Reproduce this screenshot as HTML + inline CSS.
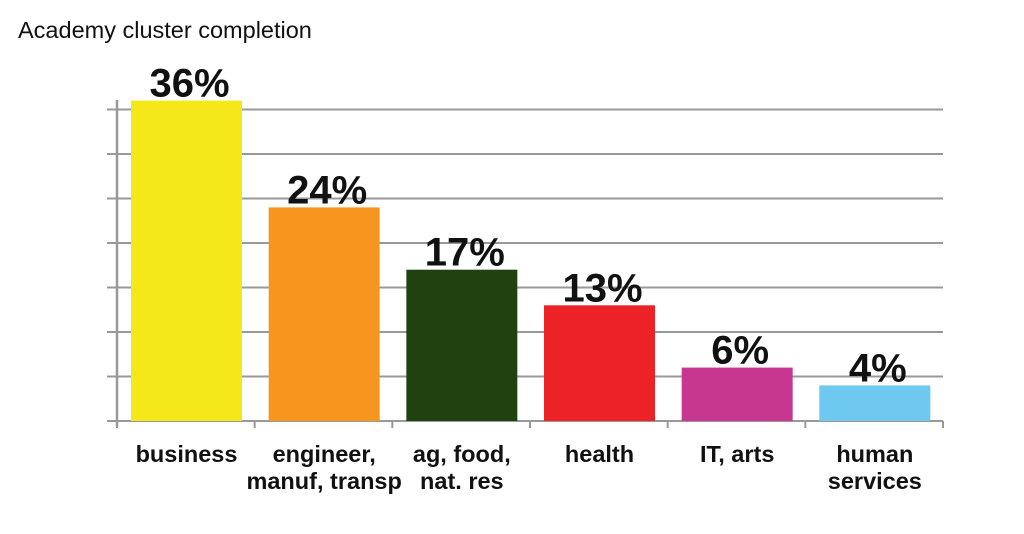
<!DOCTYPE html>
<html><head><meta charset="utf-8"><style>
body{margin:0;background:#fff;}
svg{display:block;font-family:"Liberation Sans",Arial,sans-serif;}
</style></head><body>
<svg width="1024" height="534">
<text x="18" y="38" font-size="23.5" fill="#111">Academy cluster completion</text>
<g id="grid"></g><g id="bars"></g><g id="labels"></g>
</svg>
<script>
const categories=[["business"],["engineer,","manuf, transp"],["ag, food,","nat. res"],["health"],["IT, arts"],["human","services"]];
const values=[36,24,17,13,6,4];
const valueLabels=["36%","24%","17%","13%","6%","4%"];
const colors=["#f5e81a","#f7961f","#1f4210","#ec2227","#c8378f","#6ec8ef"];
const yTicks=[0,5,10,15,20,25,30,35];
const NS="http://www.w3.org/2000/svg";
const x0=117,x1=943,y0=421,pxPer=8.9,cw=(x1-x0)/categories.length;
const y=v=>y0-v*pxPer;
function mk(t,a,p){const e=document.createElementNS(NS,t);for(const k in a)e.setAttribute(k,a[k]);p.appendChild(e);return e;}
const g=document.getElementById('grid'),b=document.getElementById('bars'),l=document.getElementById('labels');
yTicks.forEach(v=>{const ln=mk('line',{x1:107,x2:x1,y1:y(v),y2:y(v),stroke:'#999','stroke-width':2},g);

});
const ax=mk('line',{x1:x0,x2:x0,y1:100,y2:427,stroke:'#999','stroke-width':2.5},g);


for(let i=0;i<=categories.length;i++){const t=mk('line',{x1:x0+i*cw,x2:x0+i*cw,y1:y0,y2:428,stroke:'#999','stroke-width':2},g);

}
values.forEach((v,i)=>{const bx=x0+i*cw+14,bw=111;
const r=mk('rect',{x:bx,y:y(v),width:bw,height:y0-y(v),fill:colors[i]},b);


const t=mk('text',{x:bx+bw/2+3,y:y(v)-4,'text-anchor':'middle','font-size':40,'font-weight':'bold',fill:'#111'},l);
t.textContent=valueLabels[i];


const c=mk('text',{x:bx+bw/2,y:462,'text-anchor':'middle','font-size':23.5,'font-weight':'bold',fill:'#111'},l);


categories[i].forEach((s,j)=>{const ts=mk('tspan',{x:bx+bw/2,dy:j?27:0},c);ts.textContent=s;});
});
</script>
</body></html>
